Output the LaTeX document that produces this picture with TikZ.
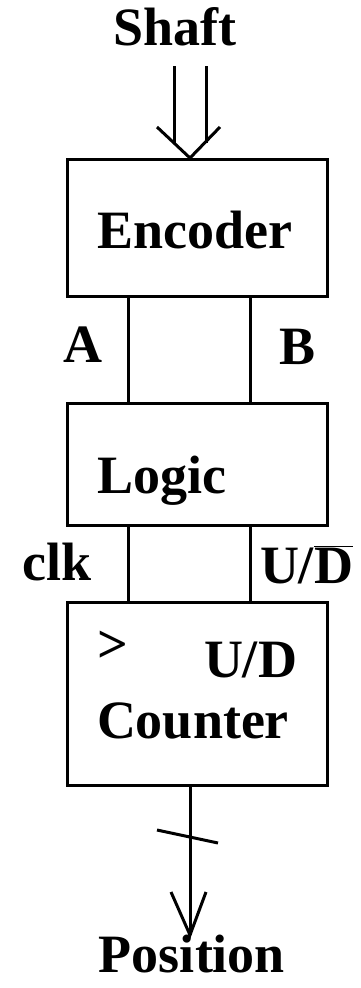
\documentclass[tikz,border=0pt]{standalone}
\usepackage{fontspec}
\setmainfont{Liberation Serif}
\usetikzlibrary{positioning}

\begin{document}
\begin{tikzpicture}[
  x=1pt, y=1pt,
  line width=3pt,
  font=\fontsize{54}{61}\selectfont\bfseries,
  block/.style={draw,outer sep=0pt,inner xsep=30pt,inner ysep=0pt,text width=200pt,align=left,minimum height=137pt},
  lbl/.style={inner sep=0pt,anchor=base}
]
\useasboundingbox (0,0) rectangle (360,-988);

\node[block, text height=41pt, text depth=0pt] (enc) at (197,-227.5) {Encoder};
\node[block, minimum height=122pt, text height=58pt, text depth=0pt, below=107pt of enc] (logic) {Logic};
\node[block, minimum height=183pt, text height=20pt, text depth=53pt, below=77pt of logic] (cnt) {\raisebox{15pt}{>}\hfill U/D\\Counter};

\node[lbl] (shaft) at (175,-45) {Shaft};
\node[lbl] (a) at (82.5,-362) {A};
\node[lbl] (b) at (298,-364) {B};
\node[lbl] (clk) at (57.5,-580) {clk};
\node[lbl] (ud) at (306.5,-583) {U/$\overline{\mbox{D}}$};
\node[lbl] (pos) at (192,-972) {Position};

\draw ([xshift=-69pt]enc.south) -- ([xshift=-69pt]logic.north);
\draw ([xshift=53pt]enc.south) -- ([xshift=53pt]logic.north);
\draw ([xshift=-69pt]logic.south) -- ([xshift=-69pt]cnt.north);
\draw ([xshift=53pt]logic.south) -- ([xshift=53pt]cnt.north);

\coordinate (stip) at ([xshift=-7pt,yshift=1pt]enc.north);
\draw ([xshift=-16pt,yshift=15pt]stip) -- ([xshift=-16pt,yshift=92pt]stip);
\draw ([xshift=16pt,yshift=15pt]stip) -- ([xshift=16pt,yshift=92pt]stip);
\draw ([xshift=-33pt,yshift=31pt]stip) -- (stip) -- ([xshift=30pt,yshift=31pt]stip);

\coordinate (ptip) at ([xshift=-7pt,yshift=-150pt]cnt.south);
\draw ([xshift=-7pt]cnt.south) -- (ptip);
\draw ([xshift=-19pt,yshift=43pt]ptip) -- (ptip) -- ([xshift=16pt,yshift=43pt]ptip);
\draw ([xshift=-33pt,yshift=105pt]ptip) -- ([xshift=28pt,yshift=92pt]ptip);

\end{tikzpicture}
\end{document}
